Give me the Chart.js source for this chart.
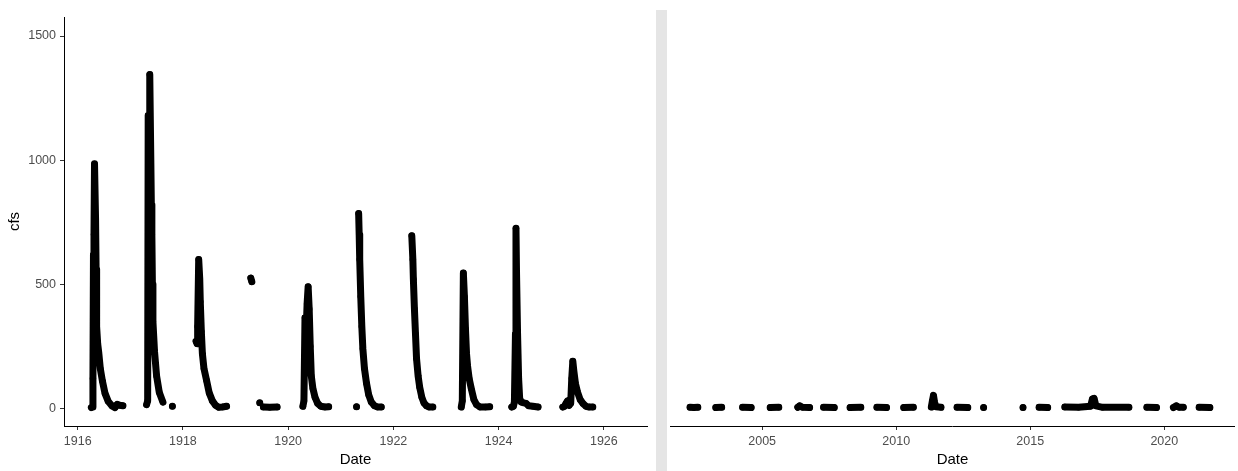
<!DOCTYPE html>
<html>
<head>
<meta charset="utf-8">
<script src="https://cdn.jsdelivr.net/npm/chart.js@4/dist/chart.umd.min.js"></script>
<style>
  body { margin: 0; background: #fff; }
  #wrap { position: relative; width: 1238px; height: 471px; }
  #early { position: absolute; left: 0; top: 0; }
  #recent { position: absolute; left: 667px; top: 0; }
  #gap { position: absolute; left: 656px; top: 10px; width: 11px; height: 461px; background: #E5E5E5; }
</style>
</head>
<body>
<div id="wrap">
  <canvas id="early" width="656" height="471"></canvas>
  <div id="gap"></div>
  <canvas id="recent" width="571" height="471"></canvas>
</div>
<script>
// daily flow, decimal years; null = gap between seasons
var early_dates = [
  1916.26, 1916.28, 1916.29, 1916.30, 1916.31, 1916.32, 1916.34, 1916.35, 1916.36, 1916.38, 1916.40, 1916.43, 1916.47, 1916.52, 1916.58, 1916.65, 1916.71, 1916.75, 1916.80, 1916.86,
  1917.0,
  1917.31, 1917.33, 1917.34, 1917.36, 1917.37, 1917.39, 1917.40, 1917.41, 1917.42, 1917.43, 1917.46, 1917.50, 1917.55, 1917.62,
  1917.7, 1917.80, 1918.0,
  1918.25, 1918.27, 1918.28, 1918.30, 1918.32, 1918.33, 1918.35, 1918.37, 1918.40, 1918.45, 1918.50, 1918.56, 1918.62, 1918.68, 1918.75, 1918.83,
  1919.0,
  1919.29, 1919.31, 1919.4, 1919.46, 1919.5, 1919.53, 1919.65, 1919.79,
  1920.0,
  1920.28, 1920.30, 1920.32, 1920.34, 1920.36, 1920.38, 1920.40, 1920.42, 1920.44, 1920.47, 1920.51, 1920.56, 1920.62, 1920.70, 1920.77,
  1921.0, 1921.30, 1921.32,
  1921.34, 1921.35, 1921.36, 1921.38, 1921.40, 1921.42, 1921.45, 1921.49, 1921.53, 1921.58, 1921.64, 1921.70, 1921.77,
  1922.0,
  1922.35, 1922.37, 1922.38, 1922.40, 1922.42, 1922.44, 1922.47, 1922.50, 1922.54, 1922.58, 1922.63, 1922.68, 1922.75,
  1923.0,
  1923.29, 1923.31, 1923.33, 1923.35, 1923.37, 1923.39, 1923.41, 1923.44, 1923.48, 1923.53, 1923.58, 1923.65, 1923.75, 1923.83,
  1924.0,
  1924.25, 1924.28, 1924.30, 1924.32, 1924.33, 1924.34, 1924.36, 1924.38, 1924.40, 1924.43, 1924.48, 1924.52, 1924.57, 1924.65, 1924.75,
  1925.0,
  1925.22, 1925.25, 1925.28, 1925.31, 1925.34, 1925.37, 1925.39, 1925.41, 1925.43, 1925.46, 1925.50, 1925.55, 1925.60, 1925.66, 1925.72, 1925.79
];
var early_cfs = [
  3, 5, 120, 620, 700, 985, 760, 560, 330, 260, 225, 160, 110, 60, 28, 10, 3, 16, 12, 10,
  null,
  15, 30, 1180, 1180, 1345, 1000, 820, 700, 500, 350, 230, 130, 65, 25,
  null, 8, null,
  270, 260, 330, 600, 520, 430, 310, 220, 160, 112, 62, 30, 12, 4, 5, 8,
  null,
  525, 510, null, 22, null, 5, 4, 5,
  null,
  8, 30, 365, 300, 420, 490, 400, 250, 130, 80, 45, 20, 8, 5, 6,
  null, 6, null,
  785, 700, 600, 450, 330, 240, 160, 100, 55, 25, 10, 5, 5,
  null,
  695, 600, 520, 400, 300, 200, 130, 85, 45, 22, 10, 5, 5,
  null,
  5, 30, 545, 450, 320, 220, 170, 120, 80, 35, 15, 5, 5, 6,
  null,
  5, 8, 25, 300, 725, 550, 300, 120, 40, 25, 22, 20, 10, 8, 5,
  null,
  5, 8, 20, 30, 12, 20, 120, 190, 150, 100, 65, 35, 20, 8, 5, 5
];
var recent_dates = [
  2002.31, 2002.45, 2002.60, 2003.0,
  2003.27, 2003.49, 2004.0,
  2004.27, 2004.59, 2005.0,
  2005.30, 2005.62, 2006.0,
  2006.33, 2006.40, 2006.50, 2006.77, 2007.0,
  2007.29, 2007.69, 2008.0,
  2008.28, 2008.68, 2009.0,
  2009.28, 2009.64, 2010.0,
  2010.28, 2010.64, 2011.0,
  2011.31, 2011.35, 2011.39, 2011.43, 2011.48, 2011.67, 2012.0,
  2012.27, 2012.67, 2013.0,
  2013.26, 2014.0,
  2014.73, 2015.0,
  2015.33, 2015.65, 2016.0,
  2016.29, 2016.80, 2017.25, 2017.32, 2017.38, 2017.45, 2017.70, 2018.68, 2019.0,
  2019.35, 2019.71, 2020.0,
  2020.34, 2020.45, 2020.55, 2020.71, 2021.0,
  2021.30, 2021.70
];
var recent_cfs = [
  4, 3, 4, null,
  3, 4, null,
  4, 3, null,
  3, 4, null,
  4, 10, 4, 3, null,
  4, 3, null,
  3, 4, null,
  4, 3, null,
  3, 4, null,
  5, 30, 52, 25, 6, 4, null,
  4, 3, null,
  3, null,
  3, null,
  4, 3, null,
  5, 4, 8, 38, 40, 10, 4, 4, null,
  4, 3, null,
  3, 10, 4, 4, null,
  4, 3
];
var early_years = [1916, 1918, 1920, 1922, 1924, 1926];
var recent_years = [2005, 2010, 2015, 2020];
var cfs_ticks = [0, 500, 1000, 1500];

var FONT = "'Liberation Sans', Arial, sans-serif";
var tickFont = { family: FONT, size: 12.5 };
var titleFont = { family: FONT, size: 15 };

function pts(dates, vals) {
    var out = [];
    for (var i = 0; i < dates.length; i++) {
        out.push({ x: dates[i], y: vals[i] });
    }
    return out;
}

function xAxis(min, max, years) {
    return {
        type: 'linear',
        min: min,
        max: max,
        afterBuildTicks: function(s) { s.ticks = years.map(function(v) { return { value: v }; }); },
        afterFit: function(s) { s.height = 45; },
        ticks: { color: '#4D4D4D', font: tickFont, padding: 4, maxRotation: 0, autoSkip: false,
                 callback: function(v) { return String(v); } },
        grid: { drawOnChartArea: false, tickLength: 4, color: '#333333', lineWidth: 1 },
        border: { display: true, color: '#000000', width: 1 },
        title: { display: true, text: 'Date', color: '#000000', font: titleFont, padding: { top: 0, bottom: 2 } }
    };
}

function lineSet(data) {
    return {
        data: data,
        showLine: true,
        spanGaps: false,
        borderColor: '#000000',
        backgroundColor: '#000000',
        borderWidth: 7,
        borderCapStyle: 'round',
        borderJoinStyle: 'round',
        pointRadius: 3.2,
        pointBorderWidth: 0,
        pointHoverRadius: 3.2
    };
}

var yMin = -71.3, yMax = 1576.6;

new Chart(document.getElementById('early'), {
    type: 'scatter',
    data: { datasets: [lineSet(pts(early_dates, early_cfs))] },
    options: {
        responsive: false,
        animation: false,
        devicePixelRatio: 1,
        layout: { padding: { top: 17, right: 9, left: 0, bottom: 0 } },
        plugins: { legend: { display: false }, tooltip: { enabled: false } },
        scales: {
            x: xAxis(1915.74, 1926.82, early_years),
            y: {
                min: yMin,
                max: yMax,
                afterBuildTicks: function(s) { s.ticks = cfs_ticks.map(function(v) { return { value: v }; }); },
                afterFit: function(s) { s.width = 64; },
                ticks: { color: '#4D4D4D', font: tickFont, padding: 4,
                         callback: function(v) { return String(v); } },
                grid: { drawOnChartArea: false, tickLength: 4, color: '#333333', lineWidth: 1 },
                border: { display: true, color: '#000000', width: 1 },
                title: { display: true, text: 'cfs', color: '#000000', font: titleFont, padding: { top: 6, bottom: 0 } }
            }
        }
    }
});

new Chart(document.getElementById('recent'), {
    type: 'scatter',
    data: { datasets: [lineSet(pts(recent_dates, recent_cfs))] },
    options: {
        responsive: false,
        animation: false,
        devicePixelRatio: 1,
        layout: { padding: { top: 17, right: 0, left: 0, bottom: 0 } },
        plugins: { legend: { display: false }, tooltip: { enabled: false } },
        scales: {
            x: xAxis(2001.57, 2022.63, recent_years),
            y: { display: false, min: yMin, max: yMax }
        }
    }
});
</script>
</body>
</html>
